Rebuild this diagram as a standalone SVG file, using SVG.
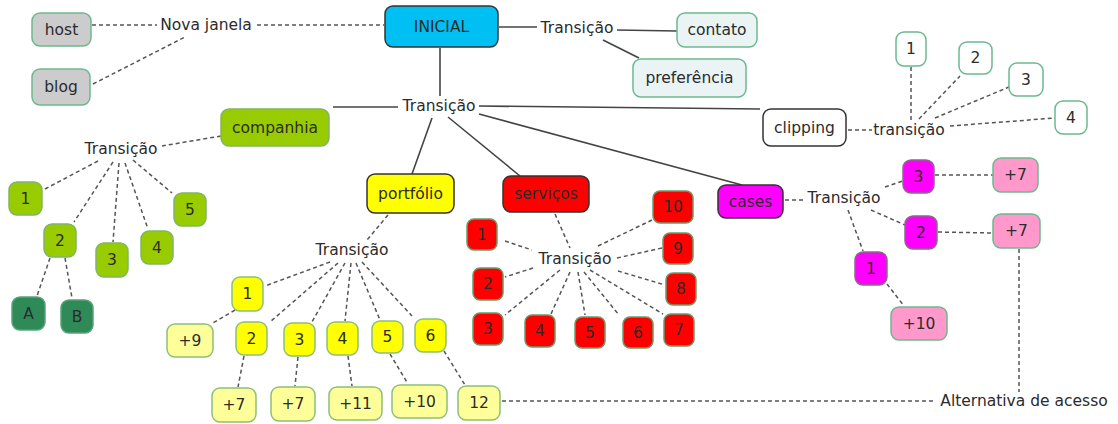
<svg xmlns="http://www.w3.org/2000/svg" width="1118" height="424" viewBox="0 0 1118 424">
<style>
text{font-family:"DejaVu Sans",Verdana,sans-serif;font-size:15.5px;fill:#2b2b2b;text-anchor:middle;dominant-baseline:central}
rect{stroke-width:1.5}
.gr{fill:#cccccc;stroke:#6bb98f}
.lt{fill:#eaf4f4;stroke:#6bb98f}
.wh{fill:#ffffff;stroke:#6bb98f}
.mn{stroke:#333333}
.gn{fill:#99cc00;stroke:#7fb56a}
.dg{fill:#2e8b57;stroke:#5aa37a}
.ye{fill:#ffff00;stroke:#8cc07a}
.ly{fill:#ffff99;stroke:#8cc07a}
.rd{fill:#ff0000;stroke:#6a9a6a}
.mg{fill:#ff00ff;stroke:#8a6a8a}
.pk{fill:#ff99cc;stroke:#6bb98f}
.sl{stroke:#444;stroke-width:1.6;fill:none}
.ds{stroke:#555;stroke-width:1.5;stroke-dasharray:4 3;fill:none}
</style>
<rect width="1118" height="424" fill="#ffffff"/>
<g id="connectors">
<line class="ds" x1="92" y1="25" x2="157" y2="25"/>
<line class="ds" x1="257" y1="25" x2="384" y2="25"/>
<line class="ds" x1="93" y1="84" x2="185" y2="37"/>
<line class="sl" x1="499" y1="27" x2="537" y2="27"/>
<line class="sl" x1="617" y1="30" x2="677" y2="31"/>
<line class="sl" x1="603" y1="40" x2="639" y2="58"/>
<line class="sl" x1="440" y1="48" x2="440" y2="96"/>
<line class="sl" x1="333" y1="107" x2="398" y2="107"/>
<line class="sl" x1="479" y1="106" x2="760" y2="109"/>
<line class="sl" x1="432" y1="118" x2="412" y2="174"/>
<line class="sl" x1="448" y1="117" x2="520" y2="176"/>
<line class="sl" x1="479" y1="114" x2="742" y2="185"/>
<line class="ds" x1="221" y1="136" x2="162" y2="146"/>
<line class="ds" x1="98" y1="161" x2="45" y2="189"/>
<line class="ds" x1="113" y1="162" x2="74" y2="222"/>
<line class="ds" x1="119" y1="163" x2="113" y2="242"/>
<line class="ds" x1="125" y1="163" x2="148" y2="229"/>
<line class="ds" x1="133" y1="160" x2="172" y2="193"/>
<line class="ds" x1="50" y1="258" x2="37" y2="296"/>
<line class="ds" x1="65" y1="258" x2="72" y2="298"/>
<line class="ds" x1="388" y1="215" x2="367" y2="240"/>
<line class="ds" x1="330" y1="262" x2="265" y2="286"/>
<line class="ds" x1="338" y1="263" x2="270" y2="322"/>
<line class="ds" x1="345" y1="263" x2="312" y2="322"/>
<line class="ds" x1="351" y1="263" x2="345" y2="321"/>
<line class="ds" x1="356" y1="263" x2="380" y2="320"/>
<line class="ds" x1="362" y1="262" x2="412" y2="316"/>
<line class="ds" x1="235" y1="310" x2="213" y2="323"/>
<line class="ds" x1="244" y1="356" x2="238" y2="387"/>
<line class="ds" x1="298" y1="357" x2="295" y2="386"/>
<line class="ds" x1="348" y1="356" x2="352" y2="386"/>
<line class="ds" x1="390" y1="354" x2="408" y2="384"/>
<line class="ds" x1="444" y1="351" x2="465" y2="385"/>
<line class="ds" x1="502" y1="401" x2="936" y2="401"/>
<line class="ds" x1="1019" y1="249" x2="1019" y2="392"/>
<line class="ds" x1="555" y1="214" x2="570" y2="248"/>
<line class="ds" x1="505" y1="241" x2="532" y2="250"/>
<line class="ds" x1="533" y1="268" x2="505" y2="277"/>
<line class="ds" x1="560" y1="270" x2="505" y2="315"/>
<line class="ds" x1="570" y1="272" x2="551" y2="314"/>
<line class="ds" x1="578" y1="272" x2="585" y2="315"/>
<line class="ds" x1="584" y1="272" x2="619" y2="315"/>
<line class="ds" x1="590" y1="270" x2="663" y2="314"/>
<line class="ds" x1="618" y1="271" x2="665" y2="285"/>
<line class="ds" x1="617" y1="258" x2="662" y2="248"/>
<line class="ds" x1="598" y1="246" x2="652" y2="220"/>
<line class="ds" x1="785" y1="200" x2="804" y2="200"/>
<line class="ds" x1="885" y1="187" x2="903" y2="181"/>
<line class="ds" x1="871" y1="210" x2="905" y2="225"/>
<line class="ds" x1="848" y1="210" x2="863" y2="251"/>
<line class="ds" x1="935" y1="175" x2="993" y2="175"/>
<line class="ds" x1="938" y1="232" x2="993" y2="233"/>
<line class="ds" x1="887" y1="284" x2="904" y2="306"/>
<line class="ds" x1="848" y1="130" x2="872" y2="130"/>
<line class="ds" x1="911" y1="67" x2="911" y2="120"/>
<line class="ds" x1="919" y1="119" x2="960" y2="76"/>
<line class="ds" x1="935" y1="118" x2="1009" y2="87"/>
<line class="ds" x1="950" y1="126" x2="1055" y2="118"/>
</g>
<g id="host"><rect class="gr" x="32" y="13" width="59" height="33" rx="8"/><text x="61.5" y="29.5">host</text></g>
<g id="blog"><rect class="gr" x="32" y="69" width="58" height="36" rx="8"/><text x="61" y="87">blog</text></g>
<g id="nova-janela"><text x="206" y="25">Nova janela</text></g>
<g id="inicial"><rect class="mn" fill="#00bff2" x="385" y="6" width="113" height="41" rx="8"/><text x="441.5" y="26.5">INICIAL</text></g>
<g id="transicao-top"><text x="577" y="28">Transição</text></g>
<g id="contato"><rect class="lt" x="677" y="13" width="80" height="34" rx="8"/><text x="717" y="30">contato</text></g>
<g id="preferencia"><rect class="lt" x="633" y="59" width="113" height="38" rx="8"/><text x="689.5" y="78">preferência</text></g>
<g id="transicao-main"><text x="439" y="106">Transição</text></g>
<g id="companhia"><rect class="gn" x="221" y="109" width="108" height="37" rx="8"/><text x="275" y="127.5">companhia</text></g>
<g id="clipping"><rect class="mn" fill="#ffffff" x="763" y="109" width="83" height="37" rx="8"/><text x="804.5" y="127.5">clipping</text></g>
<g id="portfolio"><rect class="mn" fill="#ffff00" x="367" y="174" width="87" height="39" rx="8"/><text x="410.5" y="193.5">portfólio</text></g>
<g id="servicos"><rect class="mn" fill="#ff0000" x="503" y="176" width="86" height="36" rx="8"/><text x="546" y="194">serviços</text></g>
<g id="cases"><rect class="mn" fill="#ff00ff" x="718" y="185" width="65" height="33" rx="8"/><text x="750.5" y="201.5">cases</text></g>
<g id="comp-transicao"><text x="121" y="149">Transição</text></g>
<g id="comp-1"><rect class="gn" x="9" y="182" width="33" height="33" rx="8"/><text x="25.5" y="198.5">1</text></g>
<g id="comp-2"><rect class="gn" x="44" y="224" width="32" height="33" rx="8"/><text x="60" y="240.5">2</text></g>
<g id="comp-3"><rect class="gn" x="96" y="243" width="32" height="34" rx="8"/><text x="112" y="260">3</text></g>
<g id="comp-4"><rect class="gn" x="141" y="231" width="32" height="33" rx="8"/><text x="157" y="247.5">4</text></g>
<g id="comp-5"><rect class="gn" x="174" y="193" width="32" height="33" rx="8"/><text x="190" y="209.5">5</text></g>
<g id="comp-a"><rect class="dg" x="12" y="297" width="33" height="33" rx="8"/><text x="28.5" y="313.5">A</text></g>
<g id="comp-b"><rect class="dg" x="61" y="300" width="32" height="33" rx="8"/><text x="77" y="316.5">B</text></g>
<g id="port-transicao"><text x="352" y="250">Transição</text></g>
<g id="port-1"><rect class="ye" x="232" y="277" width="31" height="34" rx="8"/><text x="247.5" y="294">1</text></g>
<g id="port-p9"><rect class="ly" x="167" y="324" width="46" height="33" rx="8"/><text x="190" y="340.5">+9</text></g>
<g id="port-2"><rect class="ye" x="236" y="322" width="31" height="33" rx="8"/><text x="251.5" y="338.5">2</text></g>
<g id="port-3"><rect class="ye" x="284" y="323" width="31" height="33" rx="8"/><text x="299.5" y="339.5">3</text></g>
<g id="port-4"><rect class="ye" x="327" y="322" width="31" height="33" rx="8"/><text x="342.5" y="338.5">4</text></g>
<g id="port-5"><rect class="ye" x="372" y="321" width="31" height="32" rx="8"/><text x="387.5" y="337">5</text></g>
<g id="port-6"><rect class="ye" x="415" y="319" width="31" height="33" rx="8"/><text x="430.5" y="335.5">6</text></g>
<g id="port-p7a"><rect class="ly" x="212" y="388" width="44" height="34" rx="8"/><text x="234" y="405">+7</text></g>
<g id="port-p7b"><rect class="ly" x="271" y="387" width="44" height="34" rx="8"/><text x="293" y="404">+7</text></g>
<g id="port-p11"><rect class="ly" x="329" y="387" width="53" height="33" rx="8"/><text x="355.5" y="403.5">+11</text></g>
<g id="port-p10"><rect class="ly" x="392" y="385" width="55" height="33" rx="8"/><text x="419.5" y="401.5">+10</text></g>
<g id="port-12"><rect class="ly" x="458" y="386" width="42" height="34" rx="8"/><text x="479" y="403">12</text></g>
<g id="alternativa"><text x="1024" y="401">Alternativa de acesso</text></g>
<g id="serv-transicao"><text x="575" y="259">Transição</text></g>
<g id="serv-1"><rect class="rd" x="467" y="219" width="30" height="31" rx="7"/><text x="482" y="234.5">1</text></g>
<g id="serv-2"><rect class="rd" x="473" y="268" width="30" height="32" rx="7"/><text x="488" y="284">2</text></g>
<g id="serv-3"><rect class="rd" x="473" y="313" width="30" height="32" rx="7"/><text x="488" y="329">3</text></g>
<g id="serv-4"><rect class="rd" x="525" y="315" width="30" height="32" rx="7"/><text x="540" y="331">4</text></g>
<g id="serv-5"><rect class="rd" x="575" y="317" width="30" height="31" rx="7"/><text x="590" y="332.5">5</text></g>
<g id="serv-6"><rect class="rd" x="623" y="317" width="30" height="31" rx="7"/><text x="638" y="332.5">6</text></g>
<g id="serv-7"><rect class="rd" x="664" y="314" width="30" height="32" rx="7"/><text x="679" y="330">7</text></g>
<g id="serv-8"><rect class="rd" x="666" y="273" width="30" height="32" rx="7"/><text x="681" y="289">8</text></g>
<g id="serv-9"><rect class="rd" x="663" y="233" width="30" height="31" rx="7"/><text x="678" y="248.5">9</text></g>
<g id="serv-10"><rect class="rd" x="653" y="191" width="40" height="32" rx="7"/><text x="673" y="207">10</text></g>
<g id="cases-transicao"><text x="844" y="198">Transição</text></g>
<g id="cases-3"><rect class="mg" x="903" y="160" width="31" height="33" rx="8"/><text x="918.5" y="176.5">3</text></g>
<g id="cases-2"><rect class="mg" x="905" y="216" width="32" height="33" rx="8"/><text x="921" y="232.5">2</text></g>
<g id="cases-1"><rect class="mg" x="855" y="252" width="32" height="33" rx="8"/><text x="871" y="268.5">1</text></g>
<g id="cases-p7a"><rect class="pk" x="993" y="158" width="45" height="34" rx="8"/><text x="1015.5" y="175">+7</text></g>
<g id="cases-p7b"><rect class="pk" x="993" y="214" width="47" height="34" rx="8"/><text x="1016.5" y="231">+7</text></g>
<g id="cases-p10"><rect class="pk" x="891" y="307" width="56" height="33" rx="8"/><text x="919" y="323.5">+10</text></g>
<g id="clip-transicao"><text x="909" y="130">transição</text></g>
<g id="clip-1"><rect class="wh" x="896" y="32" width="30" height="34" rx="8"/><text x="911" y="49">1</text></g>
<g id="clip-2"><rect class="wh" x="959" y="42" width="33" height="32" rx="8"/><text x="975.5" y="58">2</text></g>
<g id="clip-3"><rect class="wh" x="1009" y="63" width="34" height="33" rx="8"/><text x="1026" y="79.5">3</text></g>
<g id="clip-4"><rect class="wh" x="1055" y="101" width="32" height="33" rx="8"/><text x="1071" y="117.5">4</text></g>
</svg>
